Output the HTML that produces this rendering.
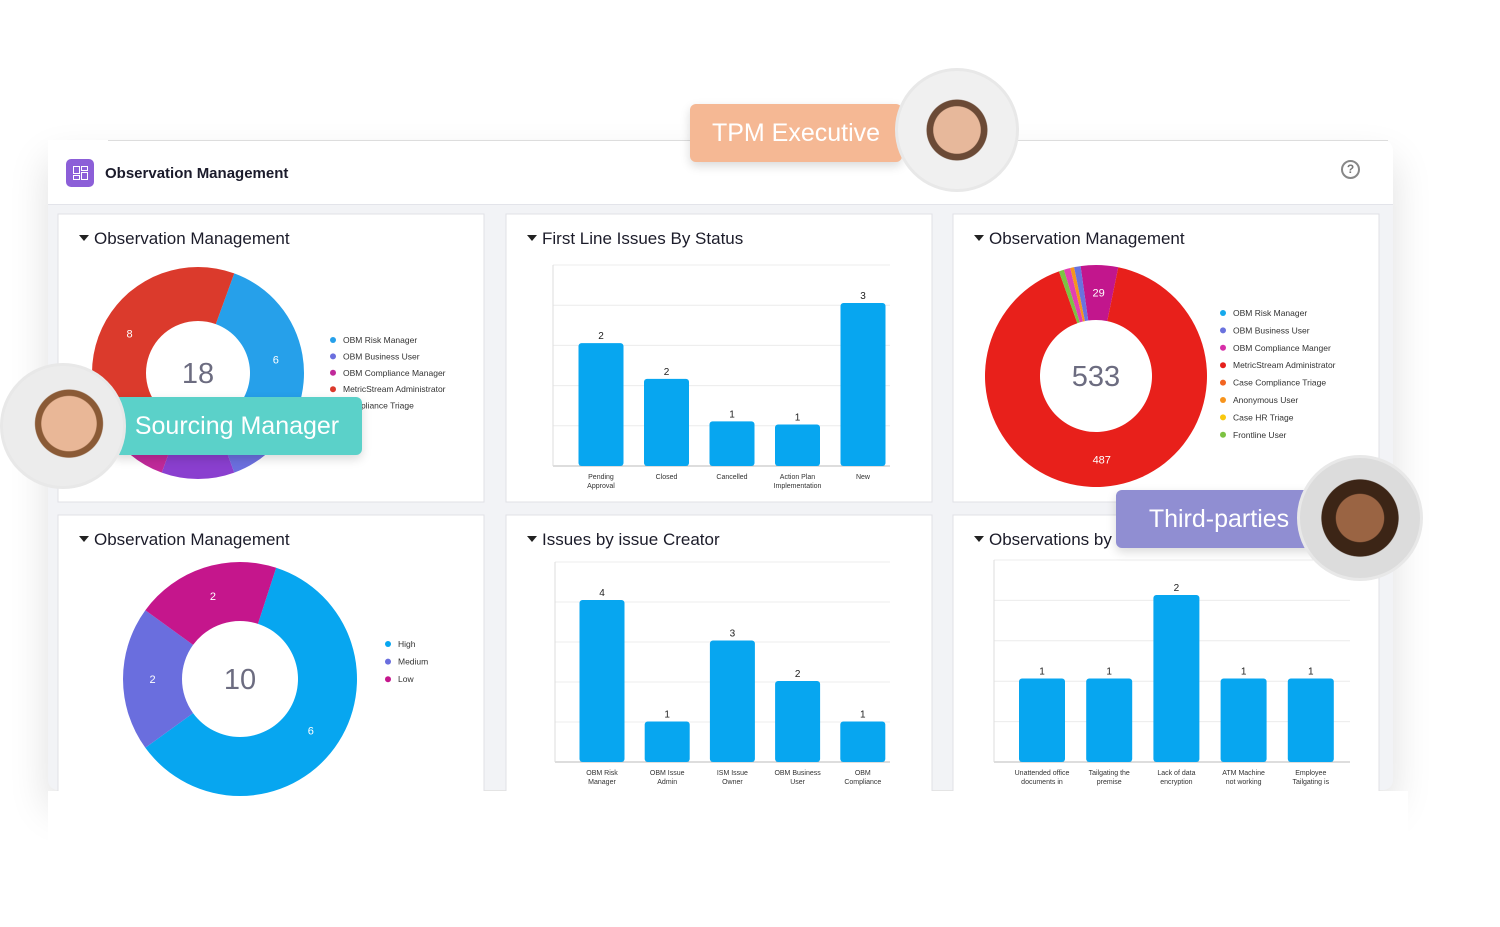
<!DOCTYPE html>
<html><head><meta charset="utf-8">
<style>
body{margin:0;width:1500px;height:927px;background:#fff;position:relative;overflow:hidden;font-family:"Liberation Sans",sans-serif}
.abs{position:absolute}
#frame{left:48px;top:140px;width:1345px;height:650px;background:#f2f3f6;box-shadow:0 20px 40px rgba(0,0,0,.13);border-radius:0 10px 10px 10px;overflow:hidden}
#hdr{left:0;top:0;width:1345px;height:64px;background:#fff;border-bottom:1px solid #e3e4ea}
.card{position:absolute;background:#fff;border:1px solid #e2e3e8;border-radius:3px}
.badge{position:absolute;color:#fff;font-size:25px;display:flex;align-items:center;justify-content:center;border-radius:6px;box-shadow:0 4px 10px rgba(0,0,0,.15)}
.av{position:absolute;border-radius:50%;border:3px solid #e8e8e8;overflow:hidden}
</style></head><body>
<div id="frame" class="abs">
 <div id="hdr" class="abs">
  <div class="abs" style="left:18px;top:19px;width:28px;height:28px;background:#8c5fd8;border-radius:5px">
   <div class="abs" style="left:7px;top:7px;width:5px;height:6px;border:1.5px solid #fff"></div>
   <div class="abs" style="left:15px;top:7px;width:5px;height:3px;border:1.5px solid #fff"></div>
   <div class="abs" style="left:7px;top:16px;width:5px;height:3px;border:1.5px solid #fff"></div>
   <div class="abs" style="left:15px;top:13px;width:5px;height:6px;border:1.5px solid #fff"></div>
  </div>
  <div class="abs" style="left:57px;top:25px;font-size:15px;font-weight:bold;color:#1b1b2b">Observation Management</div>
  <div class="abs" style="left:1293px;top:20px;width:15px;height:15px;border:2px solid #888;border-radius:50%;font-size:12px;color:#777;text-align:center;line-height:15px;font-weight:bold">?</div>
 </div>
</div>
<div class="abs" style="left:108px;top:140px;width:1280px;height:1px;background:#ddd"></div>
<svg class="abs" style="left:0;top:0" width="1500" height="927" id="s"></svg>

<div class="badge" style="left:690px;top:104px;width:212px;height:58px;background:#f5b894">TPM Executive</div>
<div class="av" style="left:895px;top:68px;width:118px;height:118px;background:radial-gradient(circle at 50% 50%,#e7b89b 0 28%,#6b4a36 29% 36%,#f0f0f0 37%)"></div>
<div class="badge" style="left:112px;top:397px;width:250px;height:58px;background:#5bd1c9">Sourcing Manager</div>
<div class="av" style="left:0px;top:363px;width:120px;height:120px;background:radial-gradient(circle at 55% 48%,#e9b797 0 30%,#8a5a36 31% 37%,#ececec 38%)"></div>
<div class="badge" style="left:1116px;top:490px;width:206px;height:58px;background:#908ed2">Third-parties</div>
<div class="av" style="left:1297px;top:455px;width:120px;height:120px;background:radial-gradient(circle at 50% 50%,#9a6443 0 28%,#3c2516 29% 45%,#dcdcdc 46%)"></div>

<script>
// ---- data ----
const d1Labels=["OBM Risk Manager","OBM Business User","OBM Compliance Manager","MetricStream Administrator","Compliance Triage"];
const d1Values=[6,1,2,1,8];
const d1Colors=["#26a0ea","#6b6fde","#8a3fcf","#c0299a","#db3a2c"];
const d3Labels=["OBM Risk Manager","OBM Business User","OBM Compliance Manger","MetricStream Administrator","Case Compliance Triage","Anonymous User","Case HR Triage","Frontline User"];
const d3Legend=["#16a9ec","#6a72de","#d72ea8","#e5201c","#f26522","#f7941d","#f9c80e","#7cc242"];
const d3Values=[29,487,4,5,3,5];
const d3Colors=["#c2168d","#e8201b","#7cc242","#e33fb2","#f7941d","#6a72de"];
const d3Shown=[true,true,false,false,false,false];
const d5Labels=["High","Medium","Low"];
const d5Values=[6,2,2];
const d5Colors=["#07a6f0","#6a6ede","#c5168c"];
const b2Cats=[["Pending","Approval"],["Closed"],["Cancelled"],["Action Plan","Implementation"],["New"]];
const b2Values=[2.75,1.95,1.0,0.93,3.65];
const b2Printed=["2","2","1","1","3"];
const b4Cats=[["OBM Risk","Manager"],["OBM Issue","Admin"],["ISM Issue","Owner"],["OBM Business","User"],["OBM","Compliance"]];
const b4Values=[4,1,3,2,1];
const b6Cats=[["Unattended office","documents in"],["Tailgating the","premise"],["Lack of data","encryption"],["ATM Machine","not working"],["Employee","Tailgating is"]];
const b6Values=[1,1,2,1,1];

const S=document.getElementById('s');const NS="http://www.w3.org/2000/svg";
function el(t,a,p){const e=document.createElementNS(NS,t);for(const k in a)e.setAttribute(k,a[k]);(p||S).appendChild(e);return e;}
function txt(x,y,s,size,fill,anchor,weight){const t=el('text',{x:x,y:y,'font-size':size,fill:fill,'text-anchor':anchor||'start','font-family':'Liberation Sans, sans-serif','font-weight':weight||'normal'});t.textContent=s;return t;}

const cards=[[58,214],[506,214],[953,214],[58,515],[506,515],[953,515]];
const titles=["Observation Management","First Line Issues By Status","Observation Management","Observation Management","Issues by issue Creator","Observations by"];
cards.forEach((c,i)=>{
 const r=el('rect',{x:c[0],y:c[1],width:426,height:i<3?288:300,fill:'#fff',stroke:'#e0e1e6'});
 
 
 const tri=el('path',{d:`M${c[0]+21} ${c[1]+21} l10 0 l-5 6z`,fill:'#222'});
 
 
 const t=txt(c[0]+36,c[1]+30,titles[i],17,'#1c1c2a');
 
 
});
el('rect',{x:48,y:791,width:1360,height:140,fill:'#fff'});

function pol(cx,cy,r,a){const t=(a-90)*Math.PI/180;return[cx+r*Math.cos(t),cy+r*Math.sin(t)];}
function donut(cx,cy,R,r,vals,cols,start,name,labelFn){
 const sum=vals.reduce((a,b)=>a+b,0);let a=start;
 vals.forEach((v,i)=>{const sp=v/sum*360;const a2=a+sp;const big=sp>180?1:0;
  const p1=pol(cx,cy,R,a),p2=pol(cx,cy,R,a2),p3=pol(cx,cy,r,a2),p4=pol(cx,cy,r,a);
  const p=el('path',{d:`M${p1} A${R} ${R} 0 ${big} 1 ${p2} L${p3} A${r} ${r} 0 ${big} 0 ${p4}Z`,fill:cols[i]});
  
  
  if(labelFn(i)){const m=pol(cx,cy,(R+r)/2,a+sp/2);const t=txt(m[0],m[1]+4,String(v),11,'#fff','middle');
   
   }
  a=a2;});
 const c=txt(cx,cy+10,String(sum),29,'#6c6c80','middle');
 
 
}
function legend(x,y,gap,labels,cols,name){labels.forEach((l,i)=>{
 const d=el('circle',{cx:x,cy:y+i*gap,r:3,fill:cols[i]});
 
 
 const t=txt(x+10,y+i*gap+3,l,8.5,'#333');
 
 });}

donut(198,373,106,52,d1Values,d1Colors,20,'donut-1',i=>i==0||i==4);
legend(333,340,16.4,d1Labels,["#26a0ea","#6b6fde","#c0299a","#db3a2c","#8a3fcf"],'donut-1');
donut(1096,376,111,56,d3Values,d3Colors,-8,'donut-3',i=>d3Shown[i]);
legend(1223,313,17.4,d3Labels,d3Legend,'donut-3');
donut(240,679,117,58,d5Values,d5Colors,18,'donut-5',()=>true);
legend(388,644,17.6,d5Labels,d5Colors,'donut-5');

function bars(x0,x1,top,base,max,cats,vals,printed,centers0,step,w,name){
 for(let g=0;g<=5;g++){const y=base-(base-top)*g/5;const l=el('line',{x1:x0,x2:x1,y1:y,y2:y,stroke:g==0?'#bbb':'#ececec'});
  
  }
 const ax=el('line',{x1:x0,x2:x0,y1:top,y2:base,stroke:'#ddd'});
 
 
 vals.forEach((v,i)=>{const cx=centers0+i*step;const h=(base-top)*v/max;
  const b=el('rect',{x:cx-w/2,y:base-h,width:w,height:h,rx:3,fill:'#07a6f0'});
  
  
  const t=txt(cx,base-h-4,printed?printed[i]:String(v),10,'#222','middle');
  
  
  cats[i].forEach((s,j)=>{const c=txt(cx,base+13+j*9,s,7,'#333','middle');
   
   });
 });
}
bars(553,890,265,466,4.5,b2Cats,b2Values,b2Printed,601,65.5,45,'bar-2');
bars(555,890,562,762,4.94,b4Cats,b4Values,null,602,65.2,45,'bar-4');
bars(994,1350,560,762,2.42,b6Cats,b6Values,null,1042,67.2,46,'bar-6');
</script>
</body></html>
